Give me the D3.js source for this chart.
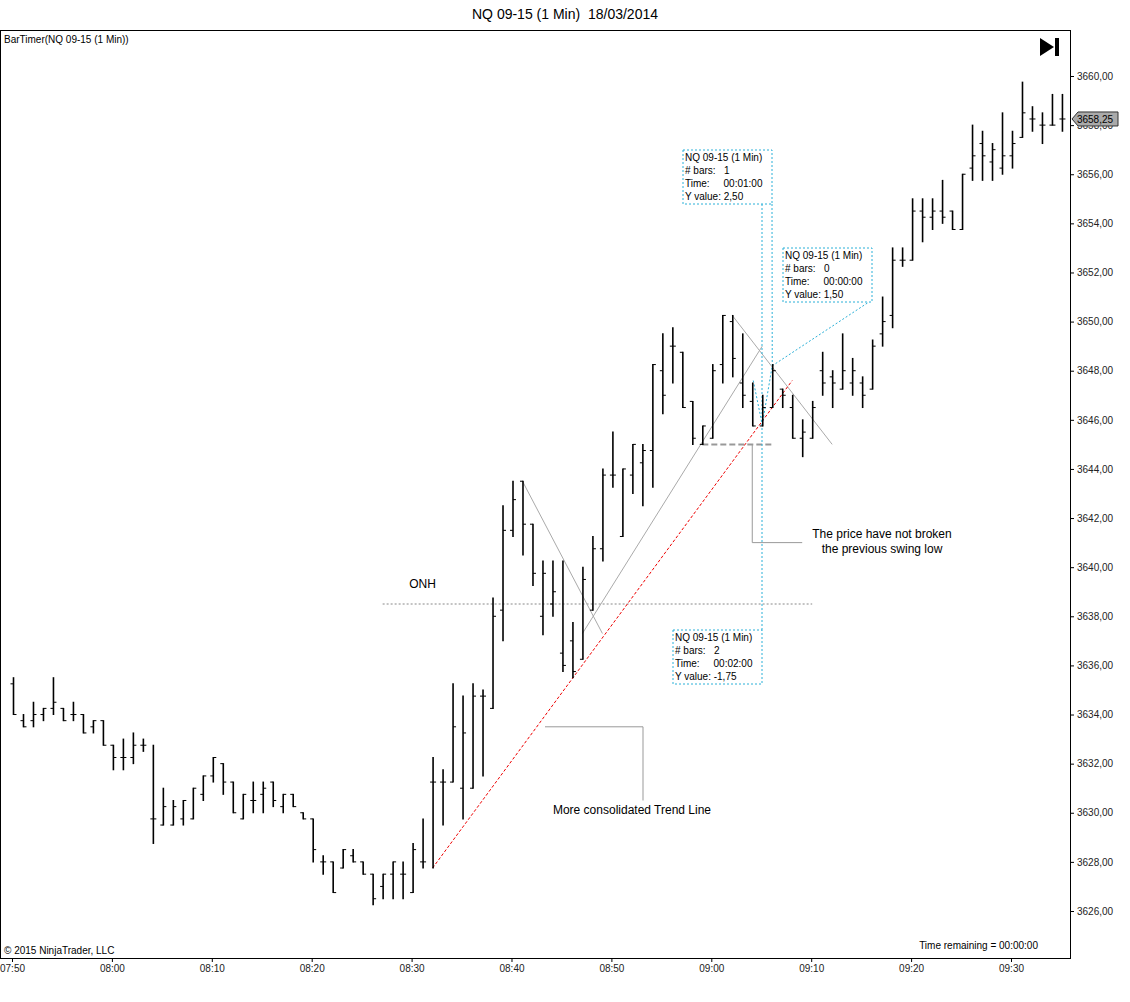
<!DOCTYPE html>
<html><head><meta charset="utf-8">
<script src="https://cdn.jsdelivr.net/npm/d3@7"></script>
<style>body{margin:0;background:#fff;font-family:Arial,"Liberation Sans",sans-serif;}</style>
</head><body><div id="chart"></div>
<script>
// bar i is at 07:50 + i minutes
const startMinute = 7*60 + 50;
const opens  = [3635.25,3633.75,3633.75,3634,3634.25,3634.25,3634,3634,3633.5,3633.75,3632.75,3632.25,3632.25,3632.75,3629.75,3629.5,3629.5,3629.75,3629.75,3630.75,3631.5,3632,3631.25,3629.75,3630.5,3630.75,3631.25,3630.25,3630.75,3630,3629.75,3628,3628,3627.75,3628.25,3628,3627.5,3627,3627.5,3627.5,3626.75,3628,3631.25,3631.25,3631.25,3631,3631,3634.75,3634.25,3638.25,3641.5,3643.5,3641.75,3638,3638.5,3636.5,3637,3636.25,3638.25,3640.75,3643.75,3641.25,3643.75,3644.25,3644.75,3648,3649,3648.75,3646.75,3645,3645.25,3648.25,3650,3647.5,3646.75,3645.75,3646.5,3647.25,3646.5,3645.25,3645.25,3648,3647.75,3647.25,3647.5,3647.5,3647.25,3649.5,3650.25,3652.5,3652.5,3654.5,3654.25,3654.5,3654.5,3653.75,3656.25,3657.25,3656.5,3656.25,3656.75,3657.5,3658.25,3658,3658,3658.25];
const highs  = [3635.5,3634,3634.5,3634.25,3635.5,3634.25,3634.5,3634,3633.75,3633.75,3632.75,3633,3633.25,3633,3632.75,3631,3630.5,3630.5,3631,3631.5,3632.25,3632,3631.25,3630.75,3631.25,3631.25,3631.25,3630.75,3630.75,3630,3629.75,3628.25,3628,3628.5,3628.5,3628,3627.5,3627.5,3628,3628,3628.75,3629.75,3632.25,3631.75,3635.25,3634.75,3635.25,3635,3638.75,3642.5,3643.5,3643.5,3641.75,3640.25,3640.25,3640.25,3637.75,3640,3641.25,3644,3645.5,3644,3645,3645,3648.25,3649.5,3649.75,3648.75,3646.75,3645.75,3648.25,3650.25,3650.25,3649.5,3647.5,3647,3648.25,3647.25,3647,3646,3646.75,3648.75,3648,3649.5,3648.5,3647.75,3649.25,3651,3653,3653,3655,3655,3655,3655.75,3654.5,3656,3658,3657.75,3657.25,3658.5,3657.75,3659.75,3658.75,3658.5,3659.25,3659.25];
const lows   = [3634,3633.5,3633.5,3633.75,3634,3633.75,3633.75,3633.25,3633.25,3632.75,3631.75,3631.75,3632,3632.5,3628.75,3629.5,3629.5,3629.5,3629.75,3630.5,3631.25,3630.75,3630,3629.75,3630,3630,3630.25,3630,3630.25,3629.75,3628,3627.5,3626.75,3627.75,3628,3627.5,3626.25,3626.5,3626.5,3626.5,3626.75,3627.75,3627.75,3629.5,3631.25,3629.75,3631,3631.5,3634.25,3637,3641.25,3640.5,3639.25,3637.25,3638,3635.75,3635.5,3636.25,3638.25,3640.25,3643.25,3641.25,3643,3642.5,3643.25,3646.25,3647.5,3646.5,3645,3645,3645.25,3647.5,3647.75,3646.5,3645.75,3645.75,3646.5,3646.5,3645.25,3644.5,3645.25,3647,3646.5,3647.25,3647,3646.5,3647.25,3649,3649.75,3652.25,3652.5,3653.25,3653.75,3654,3653.75,3653.75,3655.75,3655.75,3655.75,3656,3656.25,3657.5,3657.75,3657.25,3658,3657.75];
const closes = [3634,3633.5,3634,3634.25,3634.5,3633.75,3634,3633.25,3633.75,3632.75,3632.25,3632.25,3632.75,3632.75,3629.75,3630.25,3630.25,3630.5,3631,3631.5,3632.25,3631.25,3630,3630.75,3630.5,3631,3630.5,3630.75,3630.25,3629.75,3628.5,3628,3626.75,3628.5,3628,3627.5,3626.5,3627.5,3628,3627.5,3628.5,3628,3631.25,3631.25,3633.5,3633.25,3634.75,3634.75,3638,3641.5,3642.75,3641.75,3639.75,3639.75,3639,3636,3635.75,3639.5,3640.75,3643.75,3643.75,3644,3645,3644.75,3648.25,3647,3649,3646.5,3645.25,3645.75,3648,3650.25,3648.5,3647,3645.75,3646.5,3648,3647,3645.25,3645.5,3646.5,3647.5,3647.5,3648,3648,3647,3649,3650,3652.5,3652.5,3654.5,3654.25,3654.5,3654.25,3653.75,3656,3656.75,3656.75,3657,3656.75,3657.25,3658.5,3658.25,3658,3658,3658.25];
const priceTicks = d3.range(3626, 3661, 2);
const timeTicks = ["07:50","08:00","08:10","08:20","08:30","08:40","08:50","09:00","09:10","09:20","09:30"];
const lastPrice = 3658.25;

const bars = opens.map((o, i) => ({i, o, h: highs[i], l: lows[i], c: closes[i]}));

const W = 1130, H = 1002;
const plot = {left: 0, right: 1070, top: 30, bottom: 958};

const svg = d3.select("#chart").append("svg").attr("width", W).attr("height", H);

// x in minutes since midnight, y in price
const x = d3.scaleLinear().domain([startMinute - 0.1, startMinute + 100]).range([11, 1011]);
const y = d3.scaleLinear().domain([3626, 3660]).range([911, 76]);
const bx = i => x(startMinute + i) + 1;

svg.append("rect").attr("x", 0.5).attr("y", plot.top + 0.5)
    .attr("width", plot.right).attr("height", plot.bottom - plot.top)
    .attr("fill", "none").attr("stroke", "#000");

// Axes
const yAxis = svg.append("g").attr("transform", `translate(${plot.right},0)`)
    .call(d3.axisRight(y).tickValues(priceTicks).tickSize(4)
        .tickFormat(d => d3.format(".2f")(d).replace(".", ",")));
yAxis.select(".domain").remove();
yAxis.selectAll("text").attr("font-size", 10).attr("font-family", "Arial").attr("fill", "#222");
svg.append("line").attr("x1", plot.right + 0.5).attr("x2", plot.right + 0.5)
    .attr("y1", plot.top).attr("y2", plot.bottom).attr("stroke", "#000");

const tParse = s => +s.slice(0,2)*60 + +s.slice(3);
const xAxis = svg.append("g").attr("transform", `translate(0,${plot.bottom})`)
    .call(d3.axisBottom(x).tickValues(timeTicks.map(tParse)).tickSize(4)
        .tickFormat((d, k) => timeTicks[k]));
xAxis.select(".domain").remove();
xAxis.selectAll("text").attr("font-size", 10).attr("font-family", "Arial").attr("fill", "#222");

// Annotation helpers (in data coords: bar index, price)
const P = (i, p) => [bx(i), y(p)];
function seg(a, b, stroke, dash, w) {
    svg.append("line").attr("x1", a[0]).attr("y1", a[1]).attr("x2", b[0]).attr("y2", b[1])
        .attr("stroke", stroke).attr("stroke-width", w || 1)
        .attr("stroke-dasharray", dash || null);
}

// ONH
seg(P(37, 3638.5), P(80, 3638.5), "#888", "2,2");
svg.append("text").attr("x", bx(41)).attr("y", y(3639.15)).attr("font-size", 12)
    .attr("text-anchor", "middle").text("ONH");

// swing lines
seg(P(51, 3643.5), P(59, 3637.3), "#aaa");
seg(P(57, 3637.3), P(75, 3649.0), "#aaa");
seg(P(72, 3650.25), P(82, 3645.0), "#aaa");
seg(P(69, 3645.0), P(76, 3645.0), "#999", "6,3", 2);

// red trend line
seg(P(42, 3627.75), P(78, 3647.6), "#e00", "3,2");

// leaders
seg(P(74, 3645.0), P(74, 3641.0), "#999");
seg(P(74, 3641.0), P(79, 3641.0), "#999");
svg.append("text").attr("x", 882).attr("y", 538).attr("font-size", 12)
    .attr("text-anchor", "middle").text("The price  have not  broken");
svg.append("text").attr("x", 882).attr("y", 553).attr("font-size", 12)
    .attr("text-anchor", "middle").text("the previous swing low");
seg([545, y(3633.5)], [643, y(3633.5)], "#999");
seg([643, y(3633.5)], [643, y(3630.5)], "#999");
svg.append("text").attr("x", 632).attr("y", 814).attr("font-size", 12)
    .attr("text-anchor", "middle").text("More consolidated Trend Line");

// cyan measurement boxes
const cyan = "#2ab0d8";
function box(x0, y0, lines) {
    svg.append("rect").attr("x", x0).attr("y", y0).attr("width", 89).attr("height", 54)
        .attr("fill", "#fff").attr("stroke", cyan).attr("stroke-dasharray", "2,2");
    lines.forEach((t, k) => svg.append("text").attr("x", x0 + 2).attr("y", y0 + 11 + k*13)
        .attr("font-size", 10).attr("xml:space", "preserve").text(t));
}
seg(P(74.1, 3647.6), P(75, 3645.8), cyan, "2,2");
seg(P(75, 3645.8), P(76, 3648.2), cyan, "2,2");
seg(P(76, 3648.2), [872, 300], cyan, "2,2");
seg([762, 204], [762, 630], cyan, "2,2");
seg([772, 204], P(76, 3648.2), cyan, "2,2");
box(683, 150, ["NQ 09-15 (1 Min)", "# bars:   1", "Time:     00:01:00", "Y value: 2,50"]);
box(783, 248, ["NQ 09-15 (1 Min)", "# bars:   0", "Time:     00:00:00", "Y value: 1,50"]);
box(673, 630, ["NQ 09-15 (1 Min)", "# bars:   2", "Time:     00:02:00", "Y value: -1,75"]);

// OHLC bars
const g = svg.append("g").attr("stroke", "#000");
bars.forEach(d => {
    const cx = bx(d.i) + 0.5;
    g.append("line").attr("x1", cx).attr("x2", cx).attr("y1", y(d.h) - 0.5).attr("y2", y(d.l) + 0.5).attr("stroke-width", 1.6);
    g.append("line").attr("x1", cx - 3).attr("x2", cx).attr("y1", y(d.o)).attr("y2", y(d.o));
    g.append("line").attr("x1", cx).attr("x2", cx + 3).attr("y1", y(d.c)).attr("y2", y(d.c));
});

// last price marker
const ly = y(lastPrice);
svg.append("path").attr("d", `M${plot.right + 2},${ly} L${plot.right + 8},${ly - 7} H1118 V${ly + 7} H${plot.right + 8} Z`)
    .attr("fill", "#aaa").attr("stroke", "#333");
svg.append("text").attr("x", 1095).attr("y", ly + 4).attr("font-size", 10)
    .attr("text-anchor", "middle").text("3658,25");

// texts
svg.append("text").attr("x", 565).attr("y", 19).attr("font-size", 14).attr("text-anchor", "middle")
    .attr("xml:space", "preserve").text("NQ 09-15 (1 Min)  18/03/2014");
svg.append("text").attr("x", 4).attr("y", 43).attr("font-size", 10).text("BarTimer(NQ 09-15 (1 Min))");
svg.append("text").attr("x", 4).attr("y", 954).attr("font-size", 10).text("© 2015 NinjaTrader, LLC");
svg.append("text").attr("x", 1038).attr("y", 949).attr("font-size", 10).attr("text-anchor", "end")
    .text("Time remaining = 00:00:00");
svg.append("path").attr("d", "M1040,38 L1054,47 L1040,56 Z").attr("fill", "#000");
svg.append("rect").attr("x", 1055).attr("y", 38).attr("width", 4).attr("height", 18).attr("fill", "#000");
</script></body></html>
